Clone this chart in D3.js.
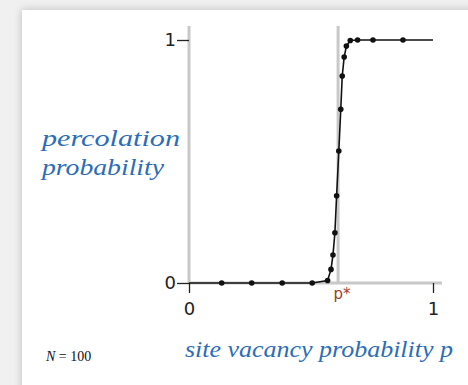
<!DOCTYPE html>
<html>
<head>
<meta charset="utf-8">
<script src="https://cdn.jsdelivr.net/npm/d3@7"></script>
<style>
  body { margin: 0; background: #f0f0f0; width: 468px; height: 385px; overflow: hidden; }
  #panel { position: absolute; left: 22px; top: 10px; width: 470px; height: 400px; background: #fff;
           box-shadow: 0 0 8px rgba(0,0,0,0.22); }
  #chart { position: absolute; left: 0; top: 0; }
</style>
</head>
<body>
<div id="panel"></div>
<div id="chart"></div>
<script>
// vacancy probability p and percolation probability
var pValues    = [0, 0.134, 0.257, 0.382, 0.505, 0.568, 0.582, 0.590, 0.598, 0.605, 0.614, 0.622, 0.628, 0.636, 0.645, 0.661, 0.691, 0.754, 0.877, 1];
var percValues = [0, 0, 0, 0, 0, 0.01, 0.056, 0.115, 0.207, 0.359, 0.543, 0.715, 0.852, 0.930, 0.975, 0.998, 1, 1, 1, 1];
var xTicks = [0, 1];
var yTicks = [0, 1];
var pStar = 0.611;

var width = 468, height = 385;

var svg = d3.select('#chart')
  .append('svg')
  .attr('width', width)
  .attr('height', height);

var x = d3.scaleLinear().domain([0, 1]).range([189, 433]);
var y = d3.scaleLinear().domain([0, 1]).range([283, 40]);

var data = pValues.map((p, i) => ({ p: p, v: percValues[i] }));

var grey = '#c8c8c8';

// grey frame lines
svg.append('line')
  .attr('x1', x(0)).attr('x2', x(0))
  .attr('y1', 26).attr('y2', y(0))
  .attr('stroke', grey).attr('stroke-width', 3);
svg.append('line')
  .attr('x1', x(0)).attr('x2', 442)
  .attr('y1', y(0)).attr('y2', y(0))
  .attr('stroke', grey).attr('stroke-width', 3);
svg.append('line')
  .attr('x1', x(pStar)).attr('x2', x(pStar))
  .attr('y1', 26).attr('y2', y(0))
  .attr('stroke', grey).attr('stroke-width', 3);

// axes
var yAxis = svg.append('g')
  .attr('transform', 'translate(' + x(0) + ',0)')
  .call(d3.axisLeft(y).tickValues(yTicks).tickFormat(d3.format('d')).tickSize(12).tickPadding(1));
var xAxis = svg.append('g')
  .attr('transform', 'translate(0,' + y(0) + ')')
  .call(d3.axisBottom(x).tickValues(xTicks).tickFormat(d3.format('d')).tickSize(10).tickPadding(9));

[yAxis, xAxis].forEach(a => {
  a.select('.domain').remove();
  a.selectAll('line').attr('stroke', '#222').attr('stroke-width', 1.3);
  a.selectAll('text')
    .attr('fill', '#222')
    .style('font-family', 'DejaVu Sans, sans-serif')
    .style('font-size', '18px');
});

// curve
var line = d3.line().x(d => x(d.p)).y(d => y(d.v));
svg.append('path')
  .datum(data)
  .attr('d', line)
  .attr('fill', 'none')
  .attr('stroke', '#111')
  .attr('stroke-width', 1.6);

svg.selectAll('circle')
  .data(data.slice(1, data.length - 1))
  .enter()
  .append('circle')
  .attr('cx', d => x(d.p))
  .attr('cy', d => y(d.v))
  .attr('r', 2.8)
  .attr('fill', '#111');

// p* label
svg.append('text')
  .attr('x', x(pStar) + 4)
  .attr('y', 299)
  .attr('text-anchor', 'middle')
  .attr('fill', '#a3392c')
  .style('font-family', 'DejaVu Sans, sans-serif')
  .style('font-size', '15px')
  .text('p*');

// blue labels
var blue = '#2c6db7';
var labelFont = 'Liberation Serif, serif';
function blueLabel(tx, ty, len, str) {
  svg.append('text')
    .attr('x', tx).attr('y', ty)
    .attr('fill', blue)
    .attr('textLength', len)
    .attr('lengthAdjust', 'spacingAndGlyphs')
    .style('font-family', labelFont).style('font-style', 'italic').style('font-size', '24px')
    .text(str);
}
blueLabel(42, 146, 138, 'percolation');
blueLabel(42, 175, 122, 'probability');
blueLabel(185, 357, 268, 'site vacancy probability p');

// N = 100
var n = svg.append('text')
  .attr('x', 46).attr('y', 361)
  .attr('fill', '#111')
  .style('font-family', labelFont).style('font-size', '14px');
n.append('tspan').style('font-style', 'italic').text('N');
n.append('tspan').text(' = 100');
</script>
</body>
</html>
